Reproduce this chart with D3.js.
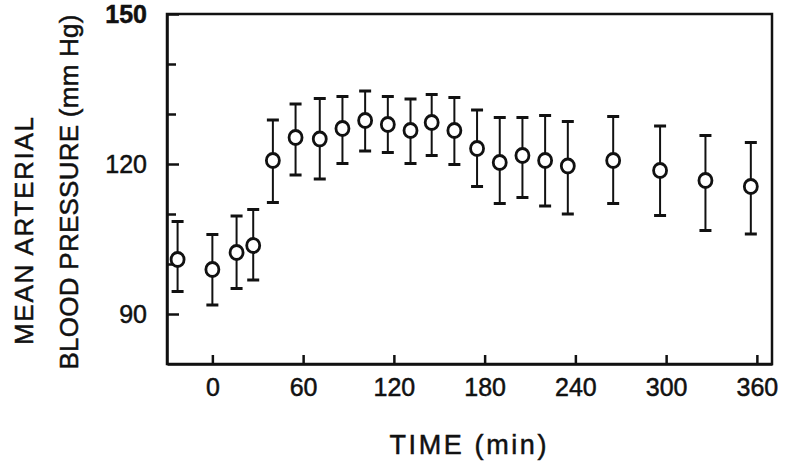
<html>
<head>
    <style>
        body {
            margin: 0;
            background-color: white;
        }
        text {
            font-family: "Liberation Sans", Arial, sans-serif;
            fill: #111;
            stroke: #111;
            stroke-width: 0.5px;
        }
    </style>
    <script src="https://cdn.jsdelivr.net/npm/d3@7"></script>
</head>
<body>
    <svg id="chart"></svg>
</body>
<script>
// values (time in min, pressure in mm Hg)
let times = [-23, 0, 16, 27, 40, 55, 71, 86, 101, 116, 131, 145, 160, 175, 190, 205, 220, 235, 265, 296, 326, 356]
let meanPressure = [100.9, 98.9, 102.3, 103.7, 120.7, 125.3, 125.0, 127.1, 128.7, 127.9, 126.7, 128.3, 126.7, 123.1, 120.3, 121.7, 120.7, 119.6, 120.7, 118.7, 116.7, 115.5]
let upperBar = [108.5, 105.9, 109.6, 110.9, 128.8, 132.0, 133.1, 133.5, 134.6, 133.5, 133.0, 133.9, 133.3, 130.8, 129.3, 129.3, 129.7, 128.5, 129.5, 127.6, 125.7, 124.3]
let lowerBar = [94.5, 91.8, 95.1, 96.8, 112.3, 117.8, 117.0, 120.1, 122.6, 122.3, 120.1, 121.7, 119.9, 115.5, 112.1, 113.3, 111.6, 110.0, 112.1, 109.7, 106.7, 106.0]
let xTicks = [0, 60, 120, 180, 240, 300, 360]
let yTicks = [90, 100, 110, 120, 130, 140, 150]
let yLabelled = [90, 120, 150]

let width = 800
let height = 469
let svg = d3.select("#chart").attr("width", width).attr("height", height)

let x = d3.scaleLinear().domain([-30, 370]).range([167, 772])
let y = d3.scaleLinear().domain([80, 150]).range([364, 14])

let points = times.map((t, i) => ({t: t, m: meanPressure[i], hi: upperBar[i], lo: lowerBar[i]}))

// frame
svg.append("rect")
    .attr("x", x(-30)).attr("y", y(150))
    .attr("width", x(370) - x(-30)).attr("height", y(80) - y(150))
    .attr("fill", "none").attr("stroke", "#111").attr("stroke-width", 2.5)

// x axis, ticks pointing in
let xAxis = svg.append("g")
    .attr("transform", "translate(0," + y(80) + ")")
    .call(d3.axisBottom(x).tickValues(xTicks).tickSizeInner(-9).tickSizeOuter(0).tickPadding(14))
xAxis.select(".domain").attr("stroke-width", 2.5).attr("stroke", "#111")
xAxis.selectAll("line").attr("stroke-width", 2.5).attr("stroke", "#111")
xAxis.selectAll("text").style("font-size", "25px").attr("fill", "#111")

// y axis, ticks pointing in, labels only every 30
let yAxis = svg.append("g")
    .attr("transform", "translate(" + x(-30) + ",0)")
    .call(d3.axisLeft(y).tickValues(yTicks).tickSizeOuter(0).tickPadding(14)
        .tickFormat(d => yLabelled.includes(d) ? d : ""))
yAxis.select(".domain").attr("stroke-width", 2.5).attr("stroke", "#111")
yAxis.selectAll("line")
    .attr("x2", d => yLabelled.includes(d) ? 12 : 9)
    .attr("stroke-width", 2.5).attr("stroke", "#111")
yAxis.selectAll("text")
    .style("font-size", "25px")
    .attr("fill", "#111")
    .style("font-weight", d => d == 150 ? "bold" : "normal")

// error bars
let bars = svg.append("g").selectAll("g").data(points).enter().append("g")
bars.append("line")
    .attr("x1", d => x(d.t)).attr("x2", d => x(d.t))
    .attr("y1", d => y(d.hi)).attr("y2", d => y(d.lo))
    .attr("stroke", "#111").attr("stroke-width", 2)
bars.append("line")
    .attr("x1", d => x(d.t) - 6).attr("x2", d => x(d.t) + 6)
    .attr("y1", d => y(d.hi)).attr("y2", d => y(d.hi))
    .attr("stroke", "#111").attr("stroke-width", 3)
bars.append("line")
    .attr("x1", d => x(d.t) - 6).attr("x2", d => x(d.t) + 6)
    .attr("y1", d => y(d.lo)).attr("y2", d => y(d.lo))
    .attr("stroke", "#111").attr("stroke-width", 3)

// open circles
svg.append("g").selectAll("ellipse").data(points).enter().append("ellipse")
    .attr("cx", d => x(d.t)).attr("cy", d => y(d.m))
    .attr("rx", 6.5).attr("ry", 7)
    .attr("fill", "white").attr("stroke", "#111").attr("stroke-width", 2.8)

// titles
svg.append("text")
    .attr("x", 468).attr("y", 454)
    .attr("text-anchor", "middle")
    .attr("textLength", 157)
    .style("font-size", "27px")
    .text("TIME (min)")

svg.append("text")
    .attr("transform", "translate(33,231) rotate(-90)")
    .attr("text-anchor", "middle")
    .attr("textLength", 228)
    .style("font-size", "26px")
    .text("MEAN ARTERIAL")

svg.append("text")
    .attr("transform", "translate(78,192) rotate(-90)")
    .attr("text-anchor", "middle")
    .attr("textLength", 355)
    .style("font-size", "26px")
    .text("BLOOD PRESSURE (mm Hg)")
</script>
</html>
